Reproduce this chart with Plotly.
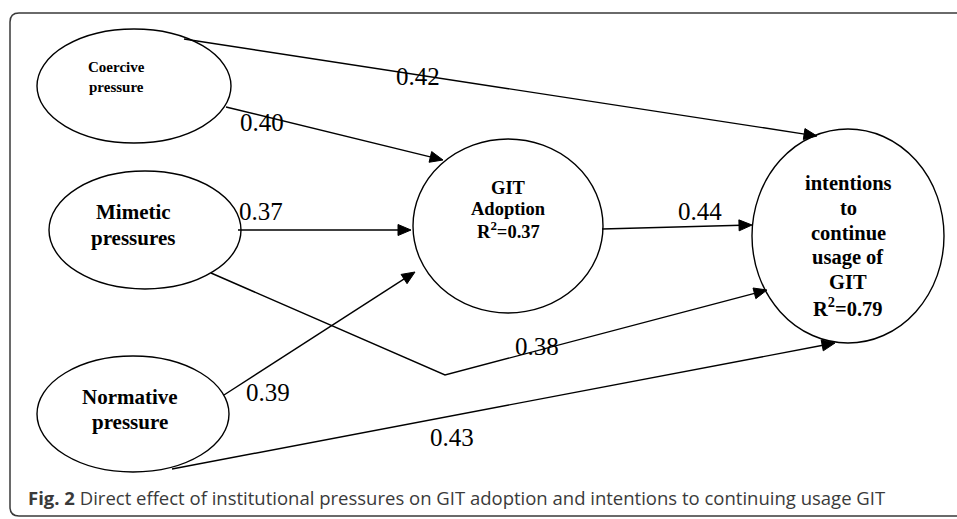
import math
import plotly.graph_objects as go

# ---- content ----
node_names = ["coercive", "mimetic", "normative", "adoption", "intentions"]
node_labels = {
    "coercive": ["Coercive", "pressure"],
    "mimetic": ["Mimetic", "pressures"],
    "normative": ["Normative", "pressure"],
    "adoption": ["GIT", "Adoption", "R<sup>2</sup>=0.37"],
    "intentions": ["intentions", "to", "continue", "usage of", "GIT", "R<sup>2</sup>=0.79"],
}
edge_from = ["coercive", "coercive", "mimetic", "adoption", "mimetic", "normative", "normative"]
edge_to = ["intentions", "adoption", "adoption", "intentions", "intentions", "adoption", "intentions"]
path_coef = ["0.42", "0.40", "0.37", "0.44", "0.38", "0.39", "0.43"]
caption_bold = "Fig. 2"
caption_text = "Direct effect of institutional pressures on GIT adoption and intentions to continuing usage GIT"

# ---- layout geometry (pixel space) ----
node_geom = {  # cx, cy, rx, ry
    "coercive": (134, 86, 97, 57),
    "mimetic": (145, 230, 96, 59),
    "normative": (133, 414, 96, 58),
    "adoption": (508, 226, 95, 87),
    "intentions": (848, 236, 96, 107),
}
text_geom = {  # center x, first line y, line gap, font size
    "coercive": (116, 67, 20, 15),
    "mimetic": (133, 212, 26, 21),
    "normative": (130, 397, 25, 21),
    "adoption": (508, 188, 21, 18.5),
    "intentions": (848, 183, 24.8, 20.5),
}
edge_paths = [
    [(184, 39), (817, 136)],
    [(226, 107), (443, 160)],
    [(238, 230), (411, 230)],
    [(602, 229), (752, 225)],
    [(211, 273), (445, 375), (767, 290)],
    [(224, 395), (415, 272)],
    [(172, 469), (835, 343)],
]
label_pos = [(418, 76), (262, 122), (261, 211), (700, 211), (537, 346), (268, 392), (452, 437)]
HEAD_LEN, HEAD_HALF = 13, 5.5

fig = go.Figure()
shapes = []
annotations = []

# outer rounded frame
r = 9
L, T, R, B = 10, 13, 990, 516
shapes.append(dict(
    type="path", xref="x", yref="y",
    path=f"M {L+r},{T} L {R},{T} L {R},{B} L {L+r},{B} Q {L},{B} {L},{B-r} L {L},{T+r} Q {L},{T} {L+r},{T} Z",
    line=dict(color="#3a3a3a", width=1.5), fillcolor="rgba(0,0,0,0)", layer="below"))

for n in node_names:
    cx, cy, rx, ry = node_geom[n]
    shapes.append(dict(type="circle", xref="x", yref="y",
                       x0=cx - rx, x1=cx + rx, y0=cy - ry, y1=cy + ry,
                       line=dict(color="black", width=1.4), fillcolor="rgba(0,0,0,0)"))
    tx, ty, gap, fs = text_geom[n]
    for i, line in enumerate(node_labels[n]):
        annotations.append(dict(x=tx, y=ty + i * gap, xref="x", yref="y", text=f"<b>{line}</b>",
                                showarrow=False, xanchor="center", yanchor="middle",
                                font=dict(family="Liberation Serif, Times New Roman, serif", size=fs, color="black")))

for k, pts in enumerate(edge_paths):
    (ax, ay), (x, y) = pts[-2], pts[-1]
    d = math.hypot(x - ax, y - ay)
    ux, uy = (x - ax) / d, (y - ay) / d
    bx, by = x - ux * HEAD_LEN, y - uy * HEAD_LEN
    xs = [p[0] for p in pts[:-1]] + [bx + ux * 2]
    ys = [p[1] for p in pts[:-1]] + [by + uy * 2]
    fig.add_trace(go.Scatter(x=xs, y=ys, mode="lines", line=dict(color="black", width=1.4),
                             hoverinfo="skip", showlegend=False))
    p1 = (bx - uy * HEAD_HALF, by + ux * HEAD_HALF)
    p2 = (bx + uy * HEAD_HALF, by - ux * HEAD_HALF)
    shapes.append(dict(type="path", xref="x", yref="y",
                       path=f"M {x},{y} L {p1[0]:.2f},{p1[1]:.2f} L {p2[0]:.2f},{p2[1]:.2f} Z",
                       line=dict(color="black", width=1), fillcolor="black"))
    lx, ly = label_pos[k]
    annotations.append(dict(x=lx, y=ly, xref="x", yref="y", text=path_coef[k], showarrow=False,
                            xanchor="center", yanchor="middle",
                            font=dict(family="Liberation Serif, Times New Roman, serif", size=25, color="black")))

annotations.append(dict(x=26, y=497, xref="x", yref="y",
                        text=f"<b>{caption_bold}</b> {caption_text}", showarrow=False,
                        xanchor="left", yanchor="middle",
                        font=dict(family="Open Sans", size=18.5, color="#3a3a3a")))

fig.update_layout(
    width=957, height=519, margin=dict(l=0, r=0, t=0, b=0),
    paper_bgcolor="white", plot_bgcolor="white",
    xaxis=dict(range=[0, 957], visible=False, fixedrange=True),
    yaxis=dict(range=[519, 0], visible=False, fixedrange=True),
    shapes=shapes, annotations=annotations, showlegend=False,
)
fig.write_html("out.html", config={"displayModeBar": False},
               post_script="document.body.style.margin='0';document.body.style.overflow='hidden';")
